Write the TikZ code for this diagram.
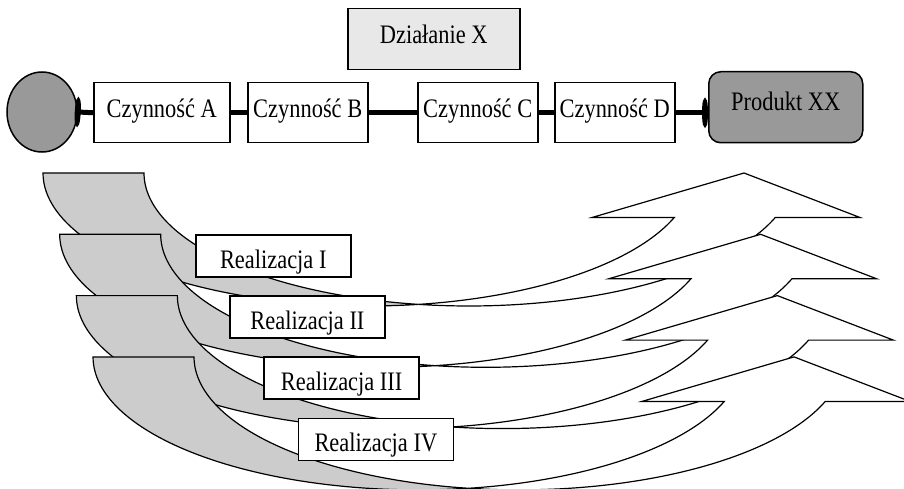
\documentclass[tikz,border=0pt]{standalone}
\usepackage{fontspec}
\setmainfont{Liberation Serif}[FakeStretch=0.84]
\usetikzlibrary{arrows.meta,shapes.geometric}

\definecolor{tailgray}{RGB}{204,204,204}
\definecolor{midgray}{RGB}{153,153,153}
\definecolor{palegray}{RGB}{232,232,232}

\tikzset{
  txt/.style={font=\fontsize{26.7}{32}\selectfont, inner sep=0pt, text depth=0pt},
  stepbox/.style={txt, draw=black, line width=1.5pt, fill=white,
    minimum height=60pt, text height=9pt, anchor=north west},
  realbox/.style={txt, draw=black, line width=1.5pt, fill=white,
    minimum width=155pt, minimum height=42pt, text height=24.6pt, anchor=north west},
  link/.style={line width=5pt, draw=black},
  knob/.tip={Ellipse[length=6pt, width=28pt]},
  tailface/.style={fill=tailgray, draw=black, line width=1.2pt},
  frontface/.style={fill=white, draw=black, line width=1.2pt, line join=miter},
}

\begin{document}
\begin{tikzpicture}[x=1pt, y=-1pt]
\clip (0,0) rectangle (904,489);

% top row: source, activities, product
\node[stepbox, fill=palegray, minimum width=172pt, minimum height=61pt] (act) at (347,8) {Działanie X};
\node[ellipse, draw=black, line width=1.5pt, fill=midgray, inner sep=0pt,
      minimum width=70pt, minimum height=80pt] (start) at (42,112) {};
\node[stepbox, minimum width=136pt] (A) at (93,82) {Czynność A};
\node[stepbox, minimum width=120pt] (B) at (247,82) {Czynność B};
\node[stepbox, minimum width=120pt] (C) at (417,82) {Czynność C};
\node[stepbox, minimum width=120pt] (D) at (554,82) {Czynność D};
\node[stepbox, fill=midgray, rounded corners=12pt, minimum width=154pt,
      minimum height=71pt, text height=6.6pt] (prod) at (708,71) {Produkt XX};

\draw[link, {knob}-, shorten <=-3pt] (start.east) -- (A.west);
\draw[link] (A) -- (B);
\draw[link] (B) -- (C);
\draw[link] (C) -- (D);
\draw[link, -{knob}] (D.east) -- (D.east -| prod.west);

% four curved up-arrows (two equal elliptical arcs each), back to front
\foreach \k in {0,1,2,3} {
  \pgfmathsetmacro\ox{43+16.67*\k}
  \pgfmathsetmacro\oy{173+61.3*\k}
  % folded tail
  \filldraw[tailface]
    plot[variable=\t, domain=180:81.06, samples=60] ({\ox+325+325*cos(\t)},{\oy+133*sin(\t)})
    -- plot[variable=\t, domain=98.94:180, samples=60] ({\ox+426+325*cos(\t)},{\oy+133*sin(\t)})
    -- cycle;
  % front face with the head
  \filldraw[frontface]
    plot[variable=\t, domain=81.06:19.55, samples=60] ({\ox+325+325*cos(\t)},{\oy+133*sin(\t)})
    -- (\ox+549,\oy+44.5) -- (\ox+701,\oy) -- (\ox+817,\oy+44.5)
    -- plot[variable=\t, domain=19.55:98.94, samples=60] ({\ox+426+325*cos(\t)},{\oy+133*sin(\t)})
    -- cycle;
}

\node[realbox] (r1) at (195,234) {Realizacja I};
\node[realbox] (r2) at (229.2,295.2) {Realizacja II};
\node[realbox] (r3) at (263.4,356.4) {Realizacja III};
\node[realbox] (r4) at (297.6,417.6) {Realizacja IV};
\end{tikzpicture}
\end{document}
